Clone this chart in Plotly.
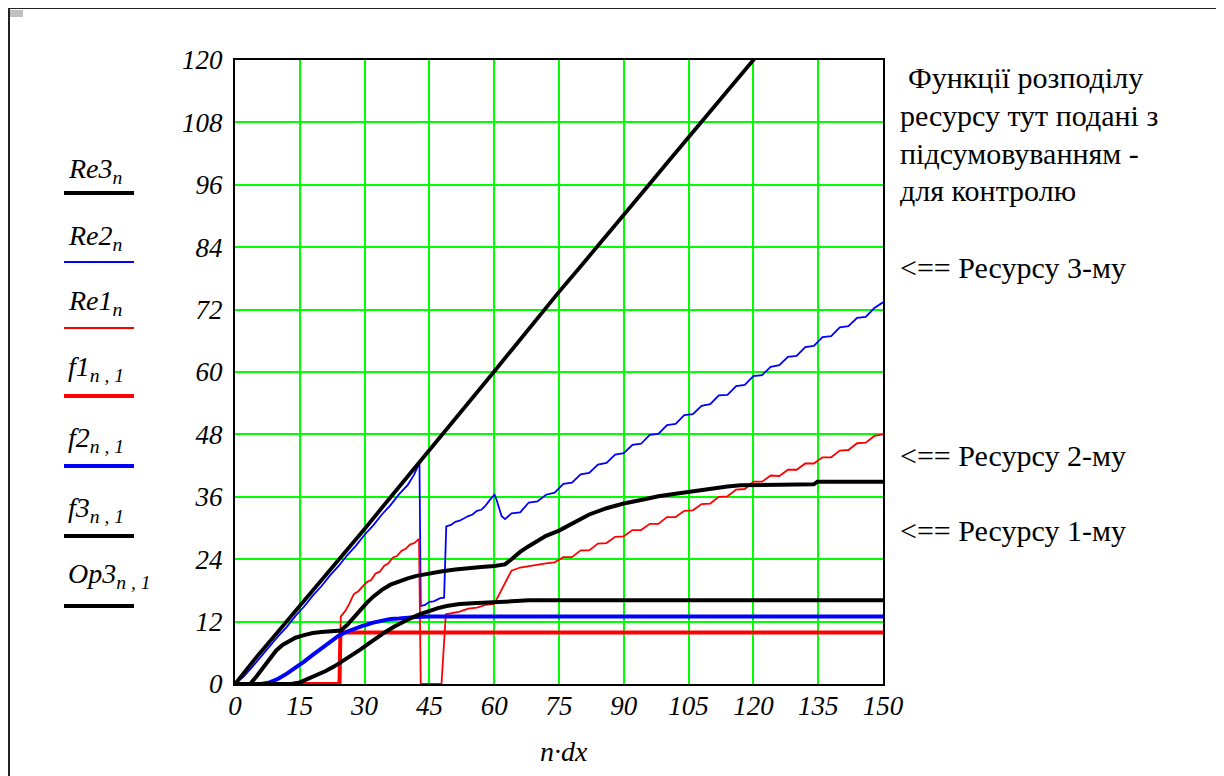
import plotly.graph_objects as go

# ---------------- data ----------------
x_ticks = [0, 15, 30, 45, 60, 75, 90, 105, 120, 135, 150]
y_ticks = [0, 12, 24, 36, 48, 60, 72, 84, 96, 108, 120]

re3_x = [0, 5, 10, 15, 20, 25, 30, 35, 40, 45, 50, 55, 60, 65, 70, 75, 80, 85, 90, 95, 100, 105, 110, 115, 120, 121]
re3_y = [0, 5.2, 10.1, 15.0, 19.9, 24.8, 29.8, 34.9, 39.9, 44.9, 49.9, 55.0, 60.1, 65.2, 70.4, 75.4, 80.3, 85.2, 90.3, 95.2, 100.2, 105.1, 110.1, 115.0, 119.8, 121]

re2_x = [0, 2, 4, 6, 8, 10, 12, 14, 16, 18, 20, 22, 24, 26, 28, 30, 32, 34, 36, 38, 40, 41.5, 42.7,
         43.0, 44, 45, 46, 47.5, 48.4, 48.9, 50, 51, 52, 53, 54, 55, 56, 57, 58, 59, 60.1, 60.6, 61.2, 61.7, 62.5,
         64, 66, 68, 70, 72, 74, 76, 78, 80, 82, 84, 86, 88, 90, 92, 94, 96, 98, 100, 102, 104, 106, 108,
         110, 112, 114, 116, 118, 120, 122, 124, 126, 128, 130, 132, 134, 136, 138, 140, 142, 144, 146, 148, 150]
re2_y = [0, 1.4, 3.3, 5.3, 7.1, 9.2, 11.0, 13.1, 14.9, 17.0, 18.8, 20.9, 22.7, 24.8, 26.6, 28.7, 30.5, 32.6, 34.4, 36.5, 38.3, 40.3, 42.6,
         15.0, 15.2, 15.8, 15.9, 16.5, 16.6, 30.3, 30.6, 31.2, 31.4, 31.9, 32.3, 32.6, 33.3, 33.5, 34.3, 35.4, 36.4, 35.3, 33.6, 32.3, 31.7,
         32.8, 33.0, 34.9, 35.1, 36.4, 36.8, 38.5, 38.7, 40.3, 40.6, 42.2, 42.5, 44.1, 44.4, 46.0, 46.2, 47.9, 48.1, 49.8, 50.0, 51.7, 51.9, 53.5,
         53.8, 55.5, 55.6, 57.3, 57.5, 59.2, 59.4, 61.0, 61.3, 62.9, 63.1, 64.8, 65.0, 66.7, 66.9, 68.6, 68.8, 70.4, 70.6, 72.3, 73.4]

re1_x = [0, 24.0, 24.5, 25.5, 26.5, 27.5, 28.5, 29.5, 30.5, 31.5, 32.5, 33.5, 34.5, 35.5, 36.5, 37.5, 38.5, 39.5, 40.5, 41.5, 42.6,
         43.0, 47.8, 48.8, 50, 52, 54, 56, 58, 60, 61, 62, 63, 64, 66, 68, 70, 72, 74,
         76, 78, 80, 82, 84, 86, 88, 90, 92, 94, 96, 98, 100, 102, 104, 106, 108, 110, 112, 114, 116, 118,
         120, 122, 124, 126, 128, 130, 132, 134, 136, 138, 140, 142, 144, 146, 148, 150]
re1_y = [0, 0, 13.0, 14.0, 15.5, 17.3, 17.8, 18.8, 19.6, 20.0, 21.2, 21.6, 22.7, 23.2, 24.3, 24.6, 25.6, 26.0, 26.8, 27.1, 27.9,
         0, 0, 13.4, 13.6, 13.9, 14.5, 14.7, 15.2, 15.4, 17.0, 18.6, 20.0, 21.8, 22.4, 22.7, 22.9, 23.2, 23.4,
         24.4, 24.4, 25.7, 25.7, 27.0, 27.1, 28.3, 28.4, 29.6, 29.6, 30.8, 30.8, 32.1, 32.1, 33.3, 33.4, 34.6, 34.7, 36.0, 36.1, 37.4, 37.5,
         38.9, 38.9, 40.1, 40.0, 41.2, 41.2, 42.4, 42.4, 43.6, 43.6, 44.9, 45.0, 46.3, 46.4, 47.7, 48.0]

f1_x = [0, 24.2, 24.4, 150]
f1_y = [0, 0, 9.9, 9.9]

f2_x = [0, 6, 8, 10, 12, 14, 16, 18, 20, 22, 24, 26, 28, 30, 32, 34, 36, 38, 40, 42, 45, 150]
f2_y = [0, 0, 0.3, 1.0, 2.0, 3.1, 4.3, 5.6, 6.9, 8.2, 9.3, 10.1, 10.8, 11.3, 11.8, 12.2, 12.5, 12.6, 12.8, 12.9, 13.0, 13.0]

f3_x = [0, 13, 15, 17, 19, 21, 23, 25, 27, 29, 31, 33, 35, 37, 39, 41, 43, 45, 47, 49, 52, 56, 60, 64, 68, 150]
f3_y = [0, 0, 0.3, 1.0, 1.7, 2.5, 3.4, 4.4, 5.5, 6.6, 7.8, 9.0, 10.1, 11.1, 12.0, 12.8, 13.5, 14.1, 14.6, 15.0, 15.4, 15.6, 15.7, 15.9, 16.1, 16.1]

op3_x = [0, 3.5, 5, 6.5, 8, 9.5, 11, 12.5, 14, 16, 18, 20, 22, 24.5, 26, 27.5, 29, 30.5, 32, 34, 36, 38, 40, 42, 45, 48, 51, 54, 57, 60, 62.5,
         64, 66, 68, 70, 72, 75, 78, 82, 86, 90, 94, 98, 102, 106, 110, 114, 117, 134, 134.8, 150]
op3_y = [0, 0, 1.5, 3.2, 4.9, 6.4, 7.5, 8.3, 8.9, 9.4, 9.8, 10.0, 10.2, 10.3, 11.4, 12.9, 14.3, 15.6, 16.8, 18.1, 19.1, 19.8, 20.3, 20.8, 21.3, 21.7, 22.0, 22.3, 22.5, 22.7, 23.0,
         24.0, 25.4, 26.5, 27.6, 28.5, 29.5, 30.9, 32.6, 33.8, 34.7, 35.4, 36.1, 36.6, 37.1, 37.6, 38.0, 38.2, 38.4, 38.9, 38.9]

legend_labels = ["Re3<sub>n</sub>", "Re2<sub>n</sub>", "Re1<sub>n</sub>", "f1<sub>n , 1</sub>",
                 "f2<sub>n , 1</sub>", "f3<sub>n , 1</sub>", "Op3<sub>n , 1</sub>"]
note_lines = ["Функції розподілу", "ресурсу тут подані з", "підсумовуванням -", "для контролю"]
arrow_labels = ["<== Ресурсу 3-му", "<== Ресурсу 2-му", "<== Ресурсу 1-му"]
x_title = "n·dx"

# ---------------- layout helpers (page pixel -> paper) ----------------
OFF = 8                       # default body margin of the html page
W, H = 1224 - OFF, 776 - OFF  # figure size so that it fits the window
PL, PR, PT, PB = 235, 883, 60, 684   # plot area in page pixels
ML, MR, MT, MB = PL - OFF, W - (PR - OFF), PT - OFF, H - (PB - OFF)


def px(x):
    return (x - PL) / (PR - PL)


def py(y):
    return (PB - y) / (PB - PT)


SERIF = "Liberation Serif, Times New Roman, serif"

fig = go.Figure()
series = [
    (re2_x, re2_y, "#0000ff", 1.8),
    (re1_x, re1_y, "#ff0000", 1.8),
    (re3_x, re3_y, "#000000", 3.8),
    (f1_x, f1_y, "#ff0000", 4),
    (f2_x, f2_y, "#0000ff", 4),
    (f3_x, f3_y, "#000000", 4),
    (op3_x, op3_y, "#000000", 4),
]
for xs, ys, col, w in series:
    fig.add_trace(go.Scatter(x=xs, y=ys, mode="lines", line=dict(color=col, width=w),
                             showlegend=False, hoverinfo="skip"))

axis_common = dict(showgrid=True, gridcolor="#00ff00", gridwidth=2, zeroline=False,
                   showline=True, linecolor="#000000", linewidth=2, mirror=True,
                   ticks="", tickfont=dict(family=SERIF, size=27, color="#000000", style="italic"))

fig.update_layout(
    width=W, height=H,
    paper_bgcolor="white", plot_bgcolor="white",
    margin=dict(l=ML, r=MR, t=MT, b=MB, pad=0),
    xaxis=dict(range=[0, 150], tickvals=x_ticks, ticktext=[str(v) for v in x_ticks],
               ticklabelstandoff=-3, **axis_common),
    yaxis=dict(range=[0, 120], tickvals=y_ticks, ticktext=[str(v) for v in y_ticks],
               ticklabelstandoff=5, **axis_common),
    showlegend=False,
)

shapes = []
# outer frame
shapes.append(dict(type="rect", xref="paper", yref="paper", x0=px(9), x1=px(1220), y0=py(800), y1=py(8),
                   line=dict(color="#222222", width=2), fillcolor="rgba(0,0,0,0)", layer="below"))
shapes.append(dict(type="rect", xref="paper", yref="paper", x0=px(10), x1=px(23), y0=py(17), y1=py(10),
                   line=dict(width=0), fillcolor="#c0c0c0"))

legend_line_y = [193, 262, 328, 396, 466, 536, 606]
legend_text_y = [170, 237, 302, 368, 439, 509, 575]
legend_styles = [("#000000", 4), ("#0000ff", 2), ("#ff0000", 2), ("#ff0000", 4), ("#0000ff", 4), ("#000000", 4), ("#000000", 4)]
annotations = []
for lab, ly, ty, (col, w) in zip(legend_labels, legend_line_y, legend_text_y, legend_styles):
    shapes.append(dict(type="line", xref="paper", yref="paper", x0=px(64), x1=px(134), y0=py(ly), y1=py(ly),
                       line=dict(color=col, width=w)))
    annotations.append(dict(text=lab, xref="paper", yref="paper", x=px(66), y=py(ty), xanchor="left",
                            yanchor="middle", showarrow=False,
                            font=dict(family=SERIF, size=28, color="#000000", style="italic")))

note_y = [77, 115, 153, 190]
note_x = [906, 898, 898, 898]
for t, ny, nx in zip(note_lines, note_y, note_x):
    annotations.append(dict(text=t, xref="paper", yref="paper", x=px(nx), y=py(ny), xanchor="left",
                            yanchor="middle", showarrow=False,
                            font=dict(family=SERIF, size=30, color="#000000")))
arrow_y = [267, 455, 530]
for t, ay in zip(arrow_labels, arrow_y):
    annotations.append(dict(text=t.replace("<", "&lt;"), xref="paper", yref="paper", x=px(898), y=py(ay),
                            xanchor="left", yanchor="middle", showarrow=False,
                            font=dict(family=SERIF, size=30, color="#000000")))

annotations.append(dict(text=x_title, xref="paper", yref="paper", x=px(564), y=py(751), xanchor="center",
                        yanchor="middle", showarrow=False,
                        font=dict(family=SERIF, size=28, color="#000000", style="italic")))

fig.update_layout(shapes=shapes, annotations=annotations)
fig.write_html("out.html")
